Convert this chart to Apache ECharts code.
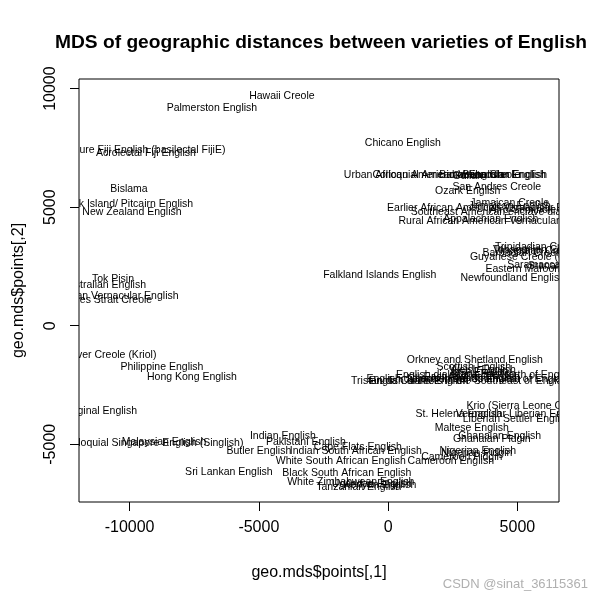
<!DOCTYPE html>
<html>
<head>
<meta charset="utf-8">
<script src="https://cdn.jsdelivr.net/npm/echarts@6/dist/echarts.min.js"></script>
<style>html,body{margin:0;padding:0;background:#fff}#c{width:600px;height:600px}</style>
</head>
<body>
<div id="c"></div>
<script>
var varieties = [
  "Hawaii Creole","Palmerston English","Pure Fiji English (basilectal FijiE)","Acrolectal Fiji English",
  "Bislama","Norfolk Island/ Pitcairn English","New Zealand English","Tok Pisin","Australian English",
  "Australian Vernacular English","Torres Strait Creole","Roper River Creole (Kriol)","Philippine English",
  "Hong Kong English","Aboriginal English","Colloquial Singapore English (Singlish)","Malaysian English",
  "Indian English","Pakistani English","Butler English","Cape Flats English","Indian South African English",
  "White South African English","Black South African English","Sri Lankan English","White Zimbabwean English",
  "Tanzanian English","Kenyan English","Ugandan English",
  "Cameroon English","Cameroon Pidgin","Nigerian English","Nigerian Pidgin","Ghanaian English","Ghanaian Pidgin",
  "Maltese English","St. Helena English","Vernacular Liberian English","Liberian Settler English",
  "Krio (Sierra Leone Creole)",
  "Orkney and Shetland English","Scottish English","Welsh English","Irish English","Manx English",
  "English dialects in the North of England","East Anglian English","English dialects in the Southwest of England",
  "Channel Islands English","English dialects in the Southeast of England","Tristan da Cunha English",
  "Chicano English","Urban African American Vernacular English","Colloquial American English","Gullah",
  "Bahamian Creole","Bahamian English","San Andres Creole","Ozark English","Jamaican Creole","Jamaican English",
  "Earlier African American Vernacular English","Southeast American enclave dialects","Appalachian English",
  "Rural African American Vernacular English","Afro-Seminole Creole",
  "Trinidadian Creole","Tobagonian Creole","Vincentian Creole","Barbadian Creole (Bajan)",
  "Guyanese Creole (Creolese)","Saramaccan","Sranan","Eastern Maroon Creole","Newfoundland English",
  "Falkland Islands English"
];
var dim1 = [
  -4109,-6815,-9250,-9366,
  -10023,-10294,-9907,-10642,-10990,
  -10758,-10874,-11299,-8748,
  -7588,-11338,-9096,-8670,
  -4070,-3181,-4998,-1171,-1249,
  -1828,-1596,-6158,-1442,
  -1133,-321,-630,
  2424,2849,3467,3429,4318,4009,
  3235,2733,5091,4975,
  5400,
  3351,3313,3660,3545,3700,
  3854,3235,3158,
  2930,3235,839,
  568,2192,1921,3081,
  3545,4511,4202,3081,4704,4704,
  3900,4202,3970,
  4240,5864,
  5787,5748,5671,5941,
  5748,5748,6057,5864,4820,
  -321
];
var dim2 = [
  9688,9182,7410,7284,
  5766,5133,4795,1970,1717,
  1253,1084,-1236,-1742,
  -2164,-3598,-4947,-4905,
  -4652,-4905,-5285,-5116,-5285,
  -5706,-6213,-6170,-6592,
  -6803,-6719,-6677,
  -5706,-5538,-5285,-5369,-4652,-4779,
  -4315,-3724,-3724,-3935,
  -3387,
  -1447,-1742,-1870,-1950,-2040,
  -2079,-2170,-2250,
  -2250,-2332,-2332,
  7706,6356,6356,6314,
  6356,6356,5850,5681,5175,5049,
  4964,4795,4500,
  4416,4880,
  3319,3193,3151,3066,
  2898,2560,2518,2391,2012,
  2138
];
var xTicks = [-10000,-5000,0,5000];
var yTicks = [-5000,0,5000,10000];
var titleText = "MDS of geographic distances between varieties of English";
var xName = "geo.mds$points[,1]";
var yName = "geo.mds$points[,2]";

var FONT = "'Liberation Sans', Arial, sans-serif";
var data = dim1.map(function(x,i){return [x, dim2[i], varieties[i]];});
function plain(v){return String(v);}

var chart = echarts.init(document.getElementById('c'), null, {renderer:'canvas'});
chart.setOption({
  animation:false,
  backgroundColor:'#fff',
  title:{text:titleText,left:316,top:28,textAlign:'center',
    textStyle:{fontFamily:FONT,fontSize:19.2,fontWeight:'bold',color:'#000'}},
  grid:{left:79,right:41,top:79,bottom:98,show:true,borderColor:'#000',borderWidth:1,backgroundColor:'transparent'},
  xAxis:{type:'value',min:-11956,max:6610,
    axisLine:{show:false,onZero:false},splitLine:{show:false},
    axisTick:{show:true,length:9,lineStyle:{color:'#000'},customValues:xTicks},
    axisLabel:{customValues:xTicks,formatter:plain,margin:18,fontFamily:FONT,fontSize:16,color:'#000'},
    name:xName,nameLocation:'middle',nameGap:63,
    nameTextStyle:{fontFamily:FONT,fontSize:16,color:'#000'}},
  yAxis:{type:'value',min:-7436,max:10405,
    axisLine:{show:false,onZero:false},splitLine:{show:false},
    axisTick:{show:true,length:9,lineStyle:{color:'#000'},customValues:yTicks},
    axisLabel:{customValues:yTicks,formatter:plain,rotate:90,margin:20,fontFamily:FONT,fontSize:16,color:'#000'},
    name:yName,nameLocation:'middle',nameGap:52,
    nameTextStyle:{fontFamily:FONT,fontSize:16,color:'#000'}},
  graphic:[{type:'text',right:12,top:578,style:{text:'CSDN @sinat_36115361',fill:'#b0b0b0',font:'13px '+FONT}}],
  series:[{
    type:'custom',clip:true,data:data,
    renderItem:function(params,api){
      var p = api.coord([api.value(0),api.value(1)]);
      return {type:'text',x:p[0],y:p[1],
        style:{text:varieties[params.dataIndex],fill:'#000',font:'10.5px '+FONT,
        align:'center',verticalAlign:'middle'}};
    }
  }]
});
</script>
</body>
</html>
